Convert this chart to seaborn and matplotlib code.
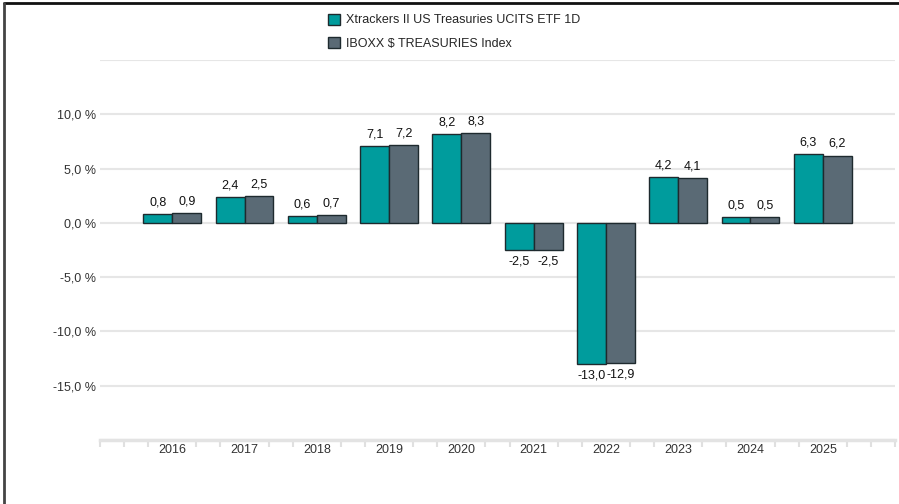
import matplotlib
matplotlib.use("Agg")
import matplotlib.pyplot as plt
import seaborn as sns
import pandas as pd
import numpy as np
from matplotlib.lines import Line2D

# Data
years = ["2016", "2017", "2018", "2019", "2020", "2021", "2022", "2023", "2024", "2025"]
etf = [0.8, 2.4, 0.6, 7.1, 8.2, -2.5, -13.0, 4.2, 0.5, 6.3]
index = [0.9, 2.5, 0.7, 7.2, 8.3, -2.5, -12.9, 4.1, 0.5, 6.2]
series_names = ["Xtrackers II US Treasuries UCITS ETF 1D", "IBOXX $ TREASURIES Index"]
y_ticks = [-20, -15, -10, -5, 0, 5, 10, 15]

df = pd.DataFrame({
    "year": years * 2,
    "value": etf + index,
    "series": [series_names[0]] * len(years) + [series_names[1]] * len(years),
})

sns.set_style("white")
plt.rcParams["font.family"] = ["Liberation Sans", "DejaVu Sans"]

fig = plt.figure(figsize=(8.99, 5.04), dpi=100)
ax = fig.add_axes([0.1112, 0.127, 0.8844, 0.754])

colors = ["#009c9d", "#5a6a75"]
sns.barplot(data=df, x="year", y="value", hue="series", palette=colors, saturation=1,
            edgecolor="#1e2a2e", linewidth=1.0, width=0.8, ax=ax, legend=False, zorder=3)

# value labels
for cont in ax.containers:
    labels = [f"{v:.1f}".replace(".", ",") for v in cont.datavalues]
    ax.bar_label(cont, labels=labels, padding=4, fontsize=9, color="#111111")

ax.set_xlim(-1, 10)
ax.set_ylim(-20, 15)
ax.set_xlabel("")
ax.set_ylabel("")

ax.set_yticks(y_ticks)
ax.set_yticklabels(["" if t in (-20, 15) else f"{t:.1f}".replace(".", ",") + " %" for t in y_ticks],
                   fontsize=9, color="#333333")
ax.tick_params(axis="y", length=0, pad=3)
ax.grid(axis="y", color="#e6e6e6", linewidth=1.5, zorder=0)
ax.grid(axis="x", visible=False)

ax.tick_params(axis="x", which="major", length=0, pad=3, labelsize=9, labelcolor="#333333")
# small ticks between categories (none under the year labels)
minor = [-1] + [i + d for i in range(-1, 10) for d in (1 / 3, 2 / 3)] + [10]
ax.set_xticks(minor, minor=True)
ax.tick_params(axis="x", which="minor", bottom=True, length=5, width=1.5, color="#e0e0e0", direction="out")

for s in ["top", "right", "left"]:
    ax.spines[s].set_visible(False)
ax.spines["bottom"].set_color("#e3e3e3")
ax.spines["bottom"].set_linewidth(2.5)

# legend
handles = [plt.Rectangle((0, 0), 1, 1, facecolor=c, edgecolor="#1e2a2e", linewidth=1.0) for c in colors]
fig.legend(handles, series_names, loc="upper left", bbox_to_anchor=(0.352, 0.995),
           frameon=False, fontsize=9, handlelength=0.95, handleheight=0.95,
           handletextpad=0.5, labelspacing=0.85)

# outer frame lines (top and left)
fig.add_artist(Line2D([0.005, 1.0], [0.995, 0.995], transform=fig.transFigure, color="#111111", linewidth=2))
fig.add_artist(Line2D([0.005, 0.005], [0.0, 0.995], transform=fig.transFigure, color="#444444", linewidth=2))

fig.savefig("out.png", dpi=100)
